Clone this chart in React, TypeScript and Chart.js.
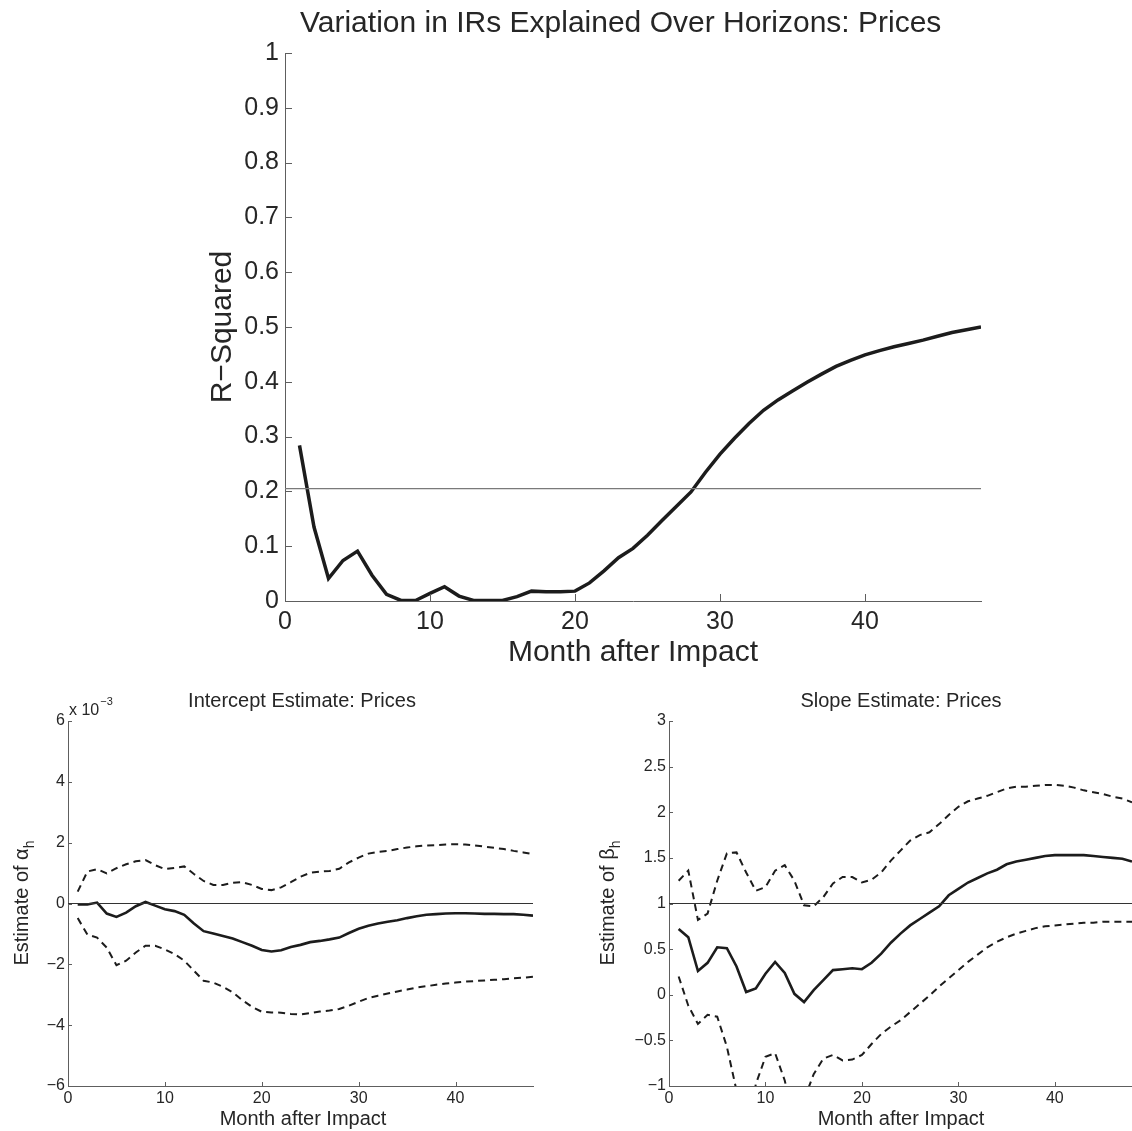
import React, { useEffect, useRef } from "react";
import { Chart, registerables } from "chart.js";

Chart.register(...registerables);

// ---------------- data ----------------
const months = [
  1, 2, 3, 4, 5, 6, 7, 8, 9, 10, 11, 12, 13, 14, 15, 16, 17, 18, 19, 20, 21, 22, 23, 24,
  25, 26, 27, 28, 29, 30, 31, 32, 33, 34, 35, 36, 37, 38, 39, 40, 41, 42, 43, 44, 45, 46, 47, 48,
];

const rSquared = [
  0.284, 0.135, 0.041, 0.074, 0.091, 0.047, 0.012, 0.001, 0.001, 0.014, 0.026, 0.009,
  0.001, 0.001, 0.001, 0.008, 0.018, 0.017, 0.017, 0.018, 0.033, 0.055, 0.079, 0.096,
  0.12, 0.147, 0.173, 0.199, 0.235, 0.268, 0.297, 0.324, 0.348, 0.367, 0.383, 0.399,
  0.414, 0.428, 0.439, 0.449, 0.457, 0.464, 0.47, 0.476, 0.483, 0.49, 0.495, 0.5,
];
const rSquaredThreshold = 0.205;

// intercept values in units of 10^-3
const interceptMean = [
  -0.03, -0.03, 0.03, -0.33, -0.44, -0.3, -0.09, 0.05, -0.07, -0.19, -0.25, -0.37,
  -0.66, -0.91, -0.99, -1.07, -1.15, -1.27, -1.39, -1.53, -1.58, -1.54, -1.43, -1.36,
  -1.27, -1.23, -1.18, -1.12, -0.97, -0.83, -0.73, -0.66, -0.6, -0.55, -0.48, -0.42,
  -0.37, -0.35, -0.33, -0.32, -0.32, -0.33, -0.34, -0.34, -0.35, -0.35, -0.37, -0.4,
];
const interceptUpper = [
  0.39, 1.05, 1.13, 0.99, 1.16, 1.29, 1.39, 1.43, 1.26, 1.13, 1.17, 1.22,
  0.97, 0.74, 0.61, 0.61, 0.68, 0.7, 0.61, 0.48, 0.44, 0.53, 0.7, 0.88,
  1.01, 1.05, 1.07, 1.14, 1.35, 1.51, 1.64, 1.7, 1.73, 1.79, 1.84, 1.88,
  1.91, 1.92, 1.94, 1.95, 1.94, 1.91, 1.87, 1.83, 1.79, 1.73, 1.68, 1.62,
];
const interceptLower = [
  -0.48, -1.02, -1.12, -1.45, -2.03, -1.88, -1.61, -1.39, -1.39, -1.51, -1.66, -1.88,
  -2.21, -2.54, -2.6, -2.74, -2.92, -3.18, -3.4, -3.56, -3.58, -3.59, -3.63, -3.65,
  -3.6, -3.55, -3.52, -3.47, -3.36, -3.23, -3.11, -3.03, -2.96, -2.89, -2.83, -2.76,
  -2.72, -2.67, -2.63, -2.6, -2.57, -2.55, -2.53, -2.51, -2.49, -2.46, -2.44, -2.41,
];
const interceptReference = 0;

const slopeMean = [
  0.72, 0.63, 0.26, 0.35, 0.52, 0.51, 0.31, 0.03, 0.07, 0.23, 0.36, 0.24,
  0.01, -0.08, 0.05, 0.16, 0.27, 0.28, 0.29, 0.28, 0.35, 0.45, 0.57, 0.67,
  0.76, 0.83, 0.9, 0.97, 1.09, 1.16, 1.23, 1.28, 1.33, 1.37, 1.43, 1.46,
  1.48, 1.5, 1.52, 1.53, 1.53, 1.53, 1.53, 1.52, 1.51, 1.5, 1.49, 1.46,
];
const slopeUpper = [
  1.25, 1.36, 0.82, 0.89, 1.25, 1.55, 1.56, 1.34, 1.14, 1.18, 1.36, 1.42,
  1.25, 0.98, 0.97, 1.07, 1.22, 1.29, 1.29, 1.23, 1.26, 1.34, 1.47, 1.58,
  1.69, 1.75, 1.78, 1.87, 1.97, 2.06, 2.12, 2.15, 2.18, 2.22, 2.26, 2.28,
  2.28, 2.29, 2.3, 2.3, 2.29, 2.27, 2.24, 2.22, 2.2, 2.17, 2.15, 2.11,
];
const slopeLower = [
  0.2, -0.12, -0.32, -0.22, -0.24, -0.57, -1.05, -1.6, -0.98, -0.68, -0.64, -0.94,
  -1.4, -1.15, -0.87, -0.7, -0.66, -0.72, -0.71, -0.66, -0.54, -0.43, -0.35, -0.28,
  -0.19, -0.1, -0.01, 0.09, 0.18, 0.27, 0.36, 0.44, 0.52, 0.58, 0.63, 0.67,
  0.7, 0.73, 0.75, 0.76, 0.77, 0.78, 0.79, 0.79, 0.8, 0.8, 0.8, 0.8,
];
const slopeReference = 1;

const xRange = [0, 48];
const xStep = 10;
const rSquaredRange = [0, 1];
const rSquaredStep = 0.1;
const interceptRange = [-6, 6];
const interceptStep = 2;
const slopeRange = [-1, 3];
const slopeStep = 0.5;

// ---------------- styles ----------------
const FONT = "'Liberation Sans', Arial, Helvetica, sans-serif";
const TEXT = "#262626";
const AXIS = "#5e5e5e";
const LINE = "#1c1c1c";

const pts = (ys: number[]) => months.map((m, i) => ({ x: m, y: ys[i] }));
const flat = (v: number) => [
  { x: xRange[0], y: v },
  { x: xRange[1], y: v },
];
const minus = (s: string) => s.replace("-", "\u2212");

type Decor = {
  tickLen: number;
  title: { text: string; size: number; x: number; y: number; align: CanvasTextAlign };
  xLabel: { text: string; size: number; x: number; y: number };
  yLabel: { text: string; sub?: string; size: number; x: number; y: number };
  exponent?: { x: number; y: number; size: number; supSize: number };
};

function decorPlugin(d: Decor) {
  return {
    id: "decor",
    afterDatasetsDraw(chart: any) {
      const { ctx, chartArea, scales } = chart;
      const xs = scales.x;
      const ys = scales.y;
      ctx.save();
      ctx.strokeStyle = AXIS;
      ctx.lineWidth = 1;
      ctx.beginPath();
      xs.ticks.forEach((t: any) => {
        const px = Math.round(xs.getPixelForValue(t.value)) + 0.5;
        ctx.moveTo(px, chartArea.bottom);
        ctx.lineTo(px, chartArea.bottom - d.tickLen);
      });
      ys.ticks.forEach((t: any) => {
        const py = Math.round(ys.getPixelForValue(t.value)) + 0.5;
        ctx.moveTo(chartArea.left, py);
        ctx.lineTo(chartArea.left + d.tickLen, py);
      });
      ctx.stroke();
      ctx.restore();
    },
    afterDraw(chart: any) {
      const { ctx } = chart;
      ctx.save();
      ctx.fillStyle = TEXT;
      ctx.textBaseline = "alphabetic";
      // title
      ctx.font = `${d.title.size}px ${FONT}`;
      ctx.textAlign = d.title.align;
      ctx.fillText(d.title.text, d.title.x, d.title.y);
      // x label
      ctx.font = `${d.xLabel.size}px ${FONT}`;
      ctx.textAlign = "center";
      ctx.fillText(d.xLabel.text, d.xLabel.x, d.xLabel.y);
      // y label (rotated)
      ctx.save();
      ctx.translate(d.yLabel.x, d.yLabel.y);
      ctx.rotate(-Math.PI / 2);
      ctx.textAlign = "left";
      ctx.font = `${d.yLabel.size}px ${FONT}`;
      const mainW = ctx.measureText(d.yLabel.text).width;
      let subW = 0;
      const subSize = Math.round(d.yLabel.size * 0.72);
      if (d.yLabel.sub) {
        ctx.font = `${subSize}px ${FONT}`;
        subW = ctx.measureText(d.yLabel.sub).width;
      }
      const start = -(mainW + subW) / 2;
      ctx.font = `${d.yLabel.size}px ${FONT}`;
      ctx.fillText(d.yLabel.text, start, 0);
      if (d.yLabel.sub) {
        ctx.font = `${subSize}px ${FONT}`;
        ctx.fillText(d.yLabel.sub, start + mainW, d.yLabel.size * 0.28);
      }
      ctx.restore();
      // exponent
      if (d.exponent) {
        ctx.textAlign = "left";
        ctx.font = `${d.exponent.size}px ${FONT}`;
        const base = "x 10";
        ctx.fillText(base, d.exponent.x, d.exponent.y);
        const w = ctx.measureText(base).width;
        ctx.font = `${d.exponent.supSize}px ${FONT}`;
        ctx.fillText("\u22123", d.exponent.x + w + 1, d.exponent.y - d.exponent.size * 0.6);
      }
      ctx.restore();
    },
  };
}

function makeScales(o: {
  yRange: number[];
  yStep: number;
  yFmt: (v: number) => string;
  tickSize: number;
  xPad: number;
  yPad: number;
  yWidth: number;
  xHeight: number;
}) {
  const font = { family: FONT, size: o.tickSize };
  return {
    x: {
      type: "linear",
      min: xRange[0],
      max: xRange[1],
      grid: { display: false, drawTicks: false },
      border: { display: true, color: AXIS, width: 1 },
      ticks: {
        stepSize: xStep,
        includeBounds: false,
        padding: o.xPad,
        color: TEXT,
        font,
        maxRotation: 0,
        autoSkip: false,
        callback: (v: any) => String(v),
      },
      afterFit: (s: any) => {
        s.height = o.xHeight;
      },
    },
    y: {
      type: "linear",
      min: o.yRange[0],
      max: o.yRange[1],
      grid: { display: false, drawTicks: false },
      border: { display: true, color: AXIS, width: 1 },
      ticks: {
        stepSize: o.yStep,
        includeBounds: false,
        padding: o.yPad,
        color: TEXT,
        font,
        autoSkip: false,
        callback: (v: any) => o.yFmt(Number(v)),
      },
      afterFit: (s: any) => {
        s.width = o.yWidth;
      },
    },
  };
}

const baseOptions = (layoutPadding: any, scales: any) => ({
  responsive: false,
  animation: false,
  devicePixelRatio: 1,
  layout: { padding: layoutPadding },
  plugins: { legend: { display: false }, title: { display: false }, tooltip: { enabled: false } },
  elements: { point: { radius: 0 }, line: { tension: 0 } },
  scales,
});

function topConfig(): any {
  return {
    type: "line",
    data: {
      datasets: [
        { data: flat(rSquaredThreshold), borderColor: "#7a7a7a", borderWidth: 1.3 },
        { data: pts(rSquared), borderColor: LINE, borderWidth: 3.5 },
      ],
    },
    options: baseOptions(
      { top: 53, right: 151, left: 0, bottom: 0 },
      makeScales({
        yRange: rSquaredRange,
        yStep: rSquaredStep,
        yFmt: (v) => String(Math.round(v * 10) / 10),
        tickSize: 25,
        xPad: 6,
        yPad: 6,
        yWidth: 285,
        xHeight: 79,
      })
    ),
    plugins: [
      decorPlugin({
        tickLen: 7,
        title: { text: "Variation in IRs Explained Over Horizons: Prices", size: 30, x: 300, y: 32, align: "left" },
        xLabel: { text: "Month after Impact", size: 30, x: 633, y: 661 },
        yLabel: { text: "R\u2212Squared", size: 30, x: 231, y: 327 },
      }),
    ],
  };
}

function interceptConfig(): any {
  return {
    type: "line",
    data: {
      datasets: [
        { data: flat(interceptReference), borderColor: "#333", borderWidth: 1.2 },
        { data: pts(interceptUpper), borderColor: LINE, borderWidth: 2, borderDash: [7, 5] },
        { data: pts(interceptLower), borderColor: LINE, borderWidth: 2, borderDash: [7, 5] },
        { data: pts(interceptMean), borderColor: LINE, borderWidth: 2.6 },
      ],
    },
    options: baseOptions(
      { top: 41, right: 33, left: 0, bottom: 0 },
      makeScales({
        yRange: interceptRange,
        yStep: interceptStep,
        yFmt: (v) => minus(String(v)),
        tickSize: 16,
        xPad: 3,
        yPad: 3,
        yWidth: 68,
        xHeight: 45,
      })
    ),
    plugins: [
      decorPlugin({
        tickLen: 4,
        title: { text: "Intercept Estimate: Prices", size: 20, x: 302, y: 27, align: "center" },
        xLabel: { text: "Month after Impact", size: 20, x: 303, y: 445 },
        yLabel: { text: "Estimate of \u03b1", sub: "h", size: 20, x: 28, y: 223 },
        exponent: { x: 69, y: 35, size: 16, supSize: 11 },
      }),
    ],
  };
}

function slopeConfig(): any {
  return {
    type: "line",
    data: {
      datasets: [
        { data: flat(slopeReference), borderColor: "#333", borderWidth: 1.2 },
        { data: pts(slopeUpper), borderColor: LINE, borderWidth: 2, borderDash: [7, 5] },
        { data: pts(slopeLower), borderColor: LINE, borderWidth: 2, borderDash: [7, 5] },
        { data: pts(slopeMean), borderColor: LINE, borderWidth: 2.6 },
      ],
    },
    options: baseOptions(
      { top: 41, right: 0, left: 0, bottom: 0 },
      makeScales({
        yRange: slopeRange,
        yStep: slopeStep,
        yFmt: (v) => minus(String(v)),
        tickSize: 16,
        xPad: 3,
        yPad: 3,
        yWidth: 103,
        xHeight: 45,
      })
    ),
    plugins: [
      decorPlugin({
        tickLen: 4,
        title: { text: "Slope Estimate: Prices", size: 20, x: 335, y: 27, align: "center" },
        xLabel: { text: "Month after Impact", size: 20, x: 335, y: 445 },
        yLabel: { text: "Estimate of \u03b2", sub: "h", size: 20, x: 48, y: 223 },
      }),
    ],
  };
}

function ChartCanvas(props: { left: number; top: number; width: number; height: number; build: () => any }) {
  const ref = useRef<HTMLCanvasElement>(null);
  useEffect(() => {
    const chart = new Chart(ref.current as HTMLCanvasElement, props.build());
    return () => chart.destroy();
  }, []);
  return (
    <canvas
      ref={ref}
      width={props.width}
      height={props.height}
      style={{ position: "absolute", left: props.left, top: props.top, width: props.width, height: props.height }}
    />
  );
}

export default function App() {
  return (
    <div style={{ position: "absolute", left: 0, top: 0, width: 1132, height: 1131, background: "#fff" }}>
      <ChartCanvas left={0} top={0} width={1132} height={680} build={topConfig} />
      <ChartCanvas left={0} top={680} width={566} height={451} build={interceptConfig} />
      <ChartCanvas left={566} top={680} width={566} height={451} build={slopeConfig} />
    </div>
  );
}
